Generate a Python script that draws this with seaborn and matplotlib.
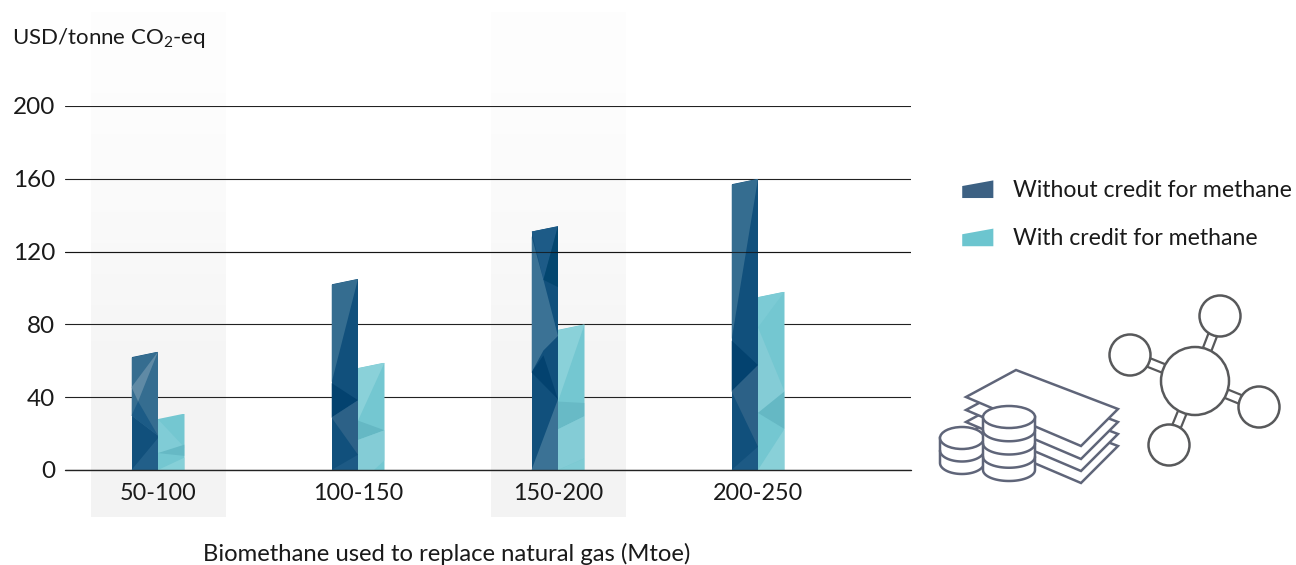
import numpy as np
import pandas as pd
import matplotlib
matplotlib.use("Agg")
import matplotlib.pyplot as plt
import seaborn as sns
from matplotlib.legend_handler import HandlerPatch
from matplotlib.patches import Circle, Ellipse, Patch, Polygon

categories = ["50-100", "100-150", "150-200", "200-250"]
without_credit = [65, 105, 134, 160]
with_credit = [31, 59, 80, 98]
series_names = ["Without credit for methane", "With credit for methane"]
y_ticks = [0, 40, 80, 120, 160, 200]

DARK = "#11507c"
LIGHT = "#74c7d1"
TEXT = "#1a1a1a"
LEGEND_COLORS = ["#3d6183", "#6cc5cf"]
SLANT = 3.0  # drop of the bar top, in y units

# shaded facets on each bar: fractions of the bar width / height, then colour
facets_dark = [
    [([(0, .95), (1, 1), (1, .29), (0, .46)], "#356d90"),
     ([(1, 1), (0, .70), (.25, .58)], "#5f8aa5"),
     ([(0, .46), (.25, .58), (1, .29)], "#1c5b86"),
     ([(0, 0), (1, .27), (1, 0)], "#225f89")],
    [([(0, .97), (1, 1), (0, .455)], "#356d90"),
     ([(0, .455), (1, .365), (0, .275)], "#03426f"),
     ([(0, .275), (1, .365), (1, .08)], "#2c6187"),
     ([(0, 0), (1, .08), (1, 0)], "#1d5a85")],
    [([(0, .98), (1, 1), (.45, .78)], "#1d5b87"),
     ([(0, .96), (.45, .78), (1, .55), (.45, .49), (0, .40)], "#3b7295"),
     ([(.45, .78), (1, 1), (1, .75)], "#03466f"),
     ([(0, .4), (.45, .47), (1, .29)], "#03426f"),
     ([(0, 0), (1, .29), (1, 0)], "#3b7295")],
    [([(0, .98), (1, 1), (0, .445)], "#356d90"),
     ([(0, .445), (1, .36), (0, .27)], "#03426f"),
     ([(0, .27), (1, .36), (1, .08)], "#2c6187"),
     ([(0, 0), (1, .08), (1, 0)], "#1d5a85")],
]
facets_light = [
    [([(0, .9), (1, .4), (0, .3)], "#80ccd6"),
     ([(0, .3), (1, .45), (1, .25)], "#66b9c5"),
     ([(0, 0), (1, .22), (1, 0)], "#86d0d8")],
    [([(0, .95), (1, 1), (0, .46)], "#8ad1d9"),
     ([(0, .46), (1, .37), (0, .28)], "#65b8c4"),
     ([(0, .28), (1, .37), (1, .09), (.6, 0), (0, 0)], "#84ccd6")],
    [([(0, .96), (1, 1), (0, .47)], "#8ad1d9"),
     ([(0, .47), (1, .46), (1, .37), (0, .28)], "#68bac6"),
     ([(0, .28), (1, .37), (1, .08), (0, 0)], "#84ccd6"),
     ([(0, 0), (1, .08), (1, 0)], "#7fcbd4")],
    [([(0, .97), (1, 1), (0, .8)], "#7ccbd5"),
     ([(0, .8), (1, .44), (0, .32)], "#84ccd6"),
     ([(0, .32), (1, .44), (1, .23)], "#65b8c4"),
     ([(0, 0), (1, .23), (1, 0)], "#89d0d8")],
]


class SlantHandler(HandlerPatch):
    """Legend swatch with the same slanted top as the bars."""

    def create_artists(self, legend, orig_handle, xdescent, ydescent,
                       width, height, fontsize, trans):
        pts = [(-xdescent, -ydescent), (width - xdescent, -ydescent),
               (width - xdescent, height - ydescent),
               (-xdescent, height * .68 - ydescent)]
        p = Polygon(pts, closed=True, facecolor=orig_handle.get_facecolor(),
                    edgecolor="none", transform=trans)
        return [p]


sns.set_theme(style="white")
plt.rcParams["font.family"] = ["Lato", "DejaVu Sans"]
plt.rcParams["mathtext.default"] = "regular"

df = pd.DataFrame({
    "range": categories * 2,
    "cost": without_credit + with_credit,
    "series": [series_names[0]] * 4 + [series_names[1]] * 4,
})

fig = plt.figure(figsize=(12.96, 5.65), dpi=100)
ax = fig.add_axes([65 / 1296, 95 / 565, 846 / 1296, 364 / 565])
ax.patch.set_alpha(0)

sns.barplot(data=df, x="range", y="cost", hue="series", order=categories,
            hue_order=series_names, palette=[DARK, LIGHT], width=.265,
            gap=0, saturation=1, legend=False, linewidth=0, edgecolor="none", ax=ax)

ax.set_xlim(-.465, 3.765)
ax.set_ylim(0, 200)
ax.set_yticks(y_ticks)
ax.set_axisbelow(True)
ax.grid(axis="y", color="#222222", linewidth=.8)
ax.grid(axis="x", visible=False)
sns.despine(ax=ax, left=True, bottom=True, top=True, right=True)
ax.tick_params(axis="both", length=0, labelcolor=TEXT)
ax.tick_params(axis="x", pad=9, labelsize=16.8)
ax.tick_params(axis="y", pad=7, labelsize=17.5)
ax.set_xlabel("")
ax.set_ylabel("")

# slanted tops and facets
bars = ax.patches[:8]
for bar, facets in zip(bars, facets_dark + facets_light):
    x0, w, h = bar.get_x(), bar.get_width(), bar.get_height()
    clip = Polygon([(x0, 0), (x0 + w, 0), (x0 + w, h), (x0, h - SLANT)],
                   closed=True, transform=ax.transData)
    bar.set_clip_path(clip)
    for pts, color in facets:
        scaled = [(x0 + u * w, v * h) for u, v in pts]
        f = Polygon(scaled, closed=True, facecolor=color, edgecolor="none",
                    linewidth=0, zorder=2)
        ax.add_patch(f)
        f.set_clip_path(clip)

ax.axhline(120, color="#111111", linewidth=.8, alpha=.75, zorder=3)
ax.axhline(0, color="#222222", linewidth=1, zorder=3, clip_on=False)

# pale bands behind the 1st and 3rd group
shade = np.array([[.99], [.978], [.962], [.952]])
for i in (0, 2):
    ax.imshow(shade, cmap="gray", vmin=0, vmax=1, aspect="auto", zorder=0,
              extent=(i - .3375, i + .3375, -25.8, 251.6), clip_on=False,
              interpolation="bilinear")
ax.set_xlim(-.465, 3.765)
ax.set_ylim(0, 200)

fig.text(12 / 1296, 1 - 37.5 / 565, "USD/tonne CO$_2$-eq", fontsize=16, color=TEXT,
         ha="left", va="center")
fig.text(447 / 1296, 1 - 554 / 565, "Biomethane used to replace natural gas (Mtoe)",
         fontsize=17.2, color=TEXT, ha="center", va="center")

handles = [Patch(facecolor=c, label=n) for c, n in zip(LEGEND_COLORS, series_names)]
fig.legend(handles=handles, loc="upper left", bbox_to_anchor=(953 / 1296, 1 - 171 / 565),
           frameon=False, fontsize=16.6, labelcolor=TEXT, handlelength=1.35,
           handleheight=.8, handletextpad=.84, labelspacing=1.18, borderpad=.4,
           borderaxespad=0, handler_map={Patch: SlantHandler()})

# icons, drawn on an overlay in pixel coordinates
icon = fig.add_axes([0, 0, 1, 1], zorder=5)
icon.set_xlim(0, 1296)
icon.set_ylim(565, 0)
icon.axis("off")
icon.patch.set_alpha(0)

GREY = "#58595b"
SLATE = "#5f6579"
hub = (1195, 381)
nodes = [(1220, 316), (1130, 355), (1259, 407), (1169, 445)]
for nx, ny in nodes:
    d = np.array([nx - hub[0], ny - hub[1]], dtype=float)
    d /= np.hypot(*d)
    n = np.array([-d[1], d[0]]) * 4.5
    for side in (-1, 1):
        a = np.array(hub) + d * 30 + side * n
        b = np.array((nx, ny)) - d * 18 + side * n
        icon.plot([a[0], b[0]], [a[1], b[1]], color=GREY, lw=1.6, zorder=1)
    icon.add_patch(Circle((nx, ny), 20.5, facecolor="white", edgecolor=GREY, lw=1.8, zorder=2))
icon.add_patch(Circle(hub, 34, facecolor="white", edgecolor=GREY, lw=1.8, zorder=2))

note = np.array([(1016, 370), (1118, 409), (1081, 446), (966, 397)], dtype=float)
for z, off in enumerate((37, 25, 13, 0)):
    icon.add_patch(Polygon(note + [0, off], closed=True, facecolor="white",
                           edgecolor=SLATE, lw=1.8, joinstyle="miter", zorder=3 + z))


def coin_stack(cx, top, bottom, rx, ry, layers, z):
    # body first, then the rim arcs from the bottom up
    t = np.linspace(0, np.pi, 40)
    arc_x = cx + rx * np.cos(t)
    arc_y = np.sin(t) * ry
    body_x = np.r_[arc_x, cx - rx, cx + rx]
    body_y = np.r_[bottom + arc_y, top, top]
    icon.fill(body_x, body_y, facecolor="white", edgecolor=SLATE, lw=1.8, zorder=z)
    for cy in np.linspace(top, bottom, layers + 1)[1:-1]:
        icon.plot(arc_x, cy + arc_y, color=SLATE, lw=1.8, zorder=z)
    icon.add_patch(Ellipse((cx, top), 2 * rx, 2 * ry, facecolor="white",
                           edgecolor=SLATE, lw=1.8, zorder=z))


coin_stack(962, 438, 463, 22, 11, 2, 8)
coin_stack(1009, 417, 470, 26, 11, 4, 9)

fig.savefig("out.png", dpi=100)
